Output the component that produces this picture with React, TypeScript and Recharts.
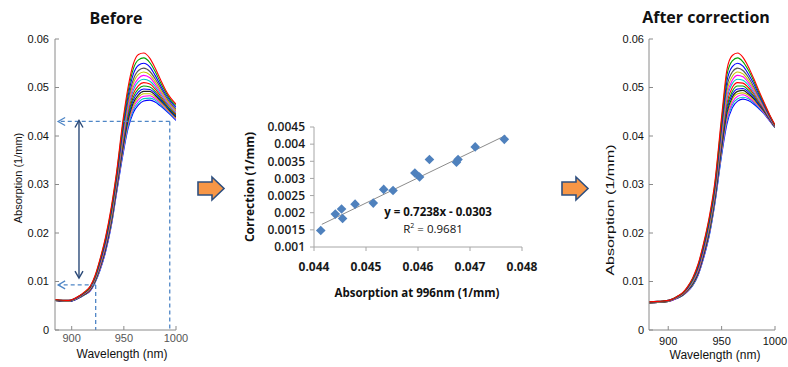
import React from 'react';
import { LineChart, Line, XAxis, YAxis, ReferenceLine, ComposedChart, Scatter } from 'recharts';

// ---------- Left panel: "Before" ----------
const beforeWavelengths = [884, 897, 907, 912, 918, 922.5, 927, 932.5, 938, 943, 949, 954, 959, 964, 969, 975, 980, 985, 990, 995, 1000];
const before01 = [0.0063, 0.0061, 0.0070, 0.0078, 0.0091, 0.0113, 0.0145, 0.0192, 0.0254, 0.0325, 0.0430, 0.0500, 0.0548, 0.0568, 0.0571, 0.0560, 0.0540, 0.0517, 0.0495, 0.0478, 0.0466];
const before02 = [0.0063, 0.0061, 0.0070, 0.0077, 0.0090, 0.0111, 0.0143, 0.0189, 0.0250, 0.0321, 0.0423, 0.0491, 0.0538, 0.0557, 0.0561, 0.0551, 0.0533, 0.0511, 0.0491, 0.0474, 0.0463];
const before03 = [0.0063, 0.0061, 0.0069, 0.0077, 0.0089, 0.0110, 0.0140, 0.0185, 0.0246, 0.0316, 0.0415, 0.0482, 0.0527, 0.0546, 0.0550, 0.0542, 0.0525, 0.0505, 0.0486, 0.0471, 0.0459];
const before04 = [0.0062, 0.0060, 0.0069, 0.0076, 0.0088, 0.0108, 0.0138, 0.0182, 0.0242, 0.0311, 0.0408, 0.0473, 0.0516, 0.0535, 0.0540, 0.0533, 0.0518, 0.0500, 0.0482, 0.0467, 0.0455];
const before05 = [0.0062, 0.0060, 0.0068, 0.0076, 0.0087, 0.0107, 0.0136, 0.0180, 0.0238, 0.0308, 0.0402, 0.0466, 0.0508, 0.0527, 0.0532, 0.0526, 0.0512, 0.0495, 0.0478, 0.0464, 0.0452];
const before06 = [0.0062, 0.0060, 0.0068, 0.0075, 0.0086, 0.0106, 0.0134, 0.0177, 0.0236, 0.0305, 0.0397, 0.0460, 0.0501, 0.0519, 0.0525, 0.0520, 0.0507, 0.0491, 0.0475, 0.0462, 0.0450];
const before07 = [0.0062, 0.0060, 0.0068, 0.0075, 0.0086, 0.0105, 0.0133, 0.0175, 0.0233, 0.0302, 0.0392, 0.0454, 0.0494, 0.0512, 0.0517, 0.0513, 0.0502, 0.0487, 0.0472, 0.0459, 0.0448];
const before08 = [0.0062, 0.0060, 0.0068, 0.0074, 0.0085, 0.0104, 0.0131, 0.0173, 0.0230, 0.0299, 0.0387, 0.0448, 0.0487, 0.0504, 0.0510, 0.0507, 0.0497, 0.0483, 0.0469, 0.0457, 0.0445];
const before09 = [0.0062, 0.0060, 0.0067, 0.0074, 0.0084, 0.0103, 0.0129, 0.0171, 0.0227, 0.0296, 0.0382, 0.0442, 0.0480, 0.0497, 0.0503, 0.0501, 0.0492, 0.0479, 0.0466, 0.0454, 0.0443];
const before10 = [0.0062, 0.0059, 0.0067, 0.0074, 0.0084, 0.0102, 0.0128, 0.0169, 0.0225, 0.0293, 0.0378, 0.0437, 0.0474, 0.0491, 0.0497, 0.0496, 0.0488, 0.0476, 0.0464, 0.0452, 0.0441];
const before11 = [0.0061, 0.0059, 0.0067, 0.0073, 0.0083, 0.0101, 0.0127, 0.0167, 0.0223, 0.0291, 0.0374, 0.0432, 0.0468, 0.0485, 0.0492, 0.0492, 0.0484, 0.0473, 0.0462, 0.0450, 0.0439];
const before12 = [0.0061, 0.0059, 0.0067, 0.0073, 0.0083, 0.0100, 0.0126, 0.0166, 0.0221, 0.0289, 0.0371, 0.0428, 0.0463, 0.0480, 0.0487, 0.0487, 0.0481, 0.0470, 0.0459, 0.0448, 0.0437];
const before13 = [0.0061, 0.0059, 0.0066, 0.0073, 0.0082, 0.0100, 0.0124, 0.0164, 0.0219, 0.0286, 0.0367, 0.0424, 0.0458, 0.0475, 0.0482, 0.0483, 0.0477, 0.0468, 0.0457, 0.0447, 0.0435];
const before14 = [0.0061, 0.0059, 0.0066, 0.0072, 0.0082, 0.0099, 0.0123, 0.0163, 0.0217, 0.0284, 0.0364, 0.0419, 0.0453, 0.0469, 0.0477, 0.0478, 0.0474, 0.0465, 0.0455, 0.0445, 0.0434];
const before15 = [0.0061, 0.0059, 0.0066, 0.0072, 0.0081, 0.0098, 0.0122, 0.0161, 0.0215, 0.0282, 0.0360, 0.0415, 0.0448, 0.0464, 0.0472, 0.0474, 0.0470, 0.0462, 0.0453, 0.0443, 0.0432];
const beforeSeries = [before01, before02, before03, before04, before05, before06, before07, before08, before09, before10, before11, before12, before13, before14, before15];

// ---------- Right panel: "After correction" ----------
const afterWavelengths = [882, 890, 900, 909, 913.5, 918, 923, 928, 933, 938.5, 943.5, 950, 955, 960, 965, 970, 975, 980, 985, 990, 995, 1000];
const after01 = [0.0058, 0.0059, 0.0061, 0.0070, 0.0077, 0.0089, 0.0108, 0.0136, 0.0178, 0.0234, 0.0302, 0.0440, 0.0537, 0.0566, 0.0571, 0.0562, 0.0543, 0.0519, 0.0493, 0.0468, 0.0444, 0.0423];
const after02 = [0.0058, 0.0059, 0.0061, 0.0070, 0.0076, 0.0088, 0.0106, 0.0134, 0.0175, 0.0230, 0.0297, 0.0432, 0.0526, 0.0555, 0.0561, 0.0553, 0.0536, 0.0514, 0.0489, 0.0466, 0.0443, 0.0422];
const after03 = [0.0058, 0.0059, 0.0061, 0.0069, 0.0076, 0.0087, 0.0105, 0.0131, 0.0171, 0.0226, 0.0292, 0.0423, 0.0513, 0.0543, 0.0550, 0.0544, 0.0528, 0.0508, 0.0485, 0.0463, 0.0441, 0.0422];
const after04 = [0.0057, 0.0058, 0.0060, 0.0069, 0.0075, 0.0086, 0.0103, 0.0128, 0.0168, 0.0222, 0.0288, 0.0415, 0.0502, 0.0532, 0.0540, 0.0535, 0.0521, 0.0502, 0.0481, 0.0461, 0.0440, 0.0421];
const after05 = [0.0057, 0.0058, 0.0060, 0.0068, 0.0075, 0.0085, 0.0102, 0.0126, 0.0166, 0.0218, 0.0284, 0.0408, 0.0492, 0.0523, 0.0532, 0.0528, 0.0515, 0.0498, 0.0478, 0.0459, 0.0439, 0.0421];
const after06 = [0.0057, 0.0058, 0.0060, 0.0068, 0.0074, 0.0084, 0.0101, 0.0124, 0.0163, 0.0216, 0.0281, 0.0402, 0.0484, 0.0515, 0.0525, 0.0522, 0.0510, 0.0494, 0.0476, 0.0457, 0.0438, 0.0420];
const after07 = [0.0057, 0.0058, 0.0060, 0.0068, 0.0074, 0.0084, 0.0099, 0.0123, 0.0161, 0.0213, 0.0278, 0.0397, 0.0476, 0.0508, 0.0517, 0.0515, 0.0505, 0.0490, 0.0473, 0.0456, 0.0437, 0.0420];
const after08 = [0.0057, 0.0058, 0.0060, 0.0068, 0.0073, 0.0083, 0.0098, 0.0121, 0.0159, 0.0210, 0.0275, 0.0391, 0.0468, 0.0500, 0.0510, 0.0509, 0.0500, 0.0487, 0.0470, 0.0454, 0.0436, 0.0419];
const after09 = [0.0057, 0.0058, 0.0060, 0.0067, 0.0073, 0.0082, 0.0097, 0.0120, 0.0157, 0.0207, 0.0272, 0.0385, 0.0460, 0.0492, 0.0503, 0.0503, 0.0495, 0.0483, 0.0468, 0.0452, 0.0435, 0.0419];
const after10 = [0.0057, 0.0058, 0.0060, 0.0067, 0.0073, 0.0082, 0.0096, 0.0118, 0.0155, 0.0205, 0.0269, 0.0380, 0.0454, 0.0486, 0.0497, 0.0498, 0.0491, 0.0480, 0.0465, 0.0451, 0.0434, 0.0419];
const after11 = [0.0056, 0.0057, 0.0059, 0.0067, 0.0072, 0.0081, 0.0095, 0.0117, 0.0153, 0.0203, 0.0267, 0.0376, 0.0448, 0.0480, 0.0492, 0.0494, 0.0487, 0.0477, 0.0464, 0.0450, 0.0434, 0.0418];
const after12 = [0.0056, 0.0057, 0.0059, 0.0067, 0.0072, 0.0081, 0.0094, 0.0116, 0.0152, 0.0201, 0.0265, 0.0372, 0.0442, 0.0475, 0.0487, 0.0489, 0.0484, 0.0474, 0.0462, 0.0449, 0.0433, 0.0418];
const after13 = [0.0056, 0.0057, 0.0059, 0.0066, 0.0072, 0.0080, 0.0094, 0.0115, 0.0150, 0.0199, 0.0263, 0.0368, 0.0436, 0.0469, 0.0482, 0.0485, 0.0480, 0.0471, 0.0460, 0.0447, 0.0432, 0.0418];
const after14 = [0.0056, 0.0057, 0.0059, 0.0066, 0.0071, 0.0080, 0.0093, 0.0114, 0.0149, 0.0197, 0.0260, 0.0364, 0.0431, 0.0464, 0.0477, 0.0480, 0.0477, 0.0469, 0.0458, 0.0446, 0.0432, 0.0417];
const after15 = [0.0056, 0.0057, 0.0059, 0.0066, 0.0071, 0.0079, 0.0092, 0.0113, 0.0147, 0.0195, 0.0258, 0.0360, 0.0425, 0.0458, 0.0472, 0.0476, 0.0473, 0.0466, 0.0456, 0.0445, 0.0431, 0.0417];
const afterSeries = [after01, after02, after03, after04, after05, after06, after07, after08, after09, after10, after11, after12, after13, after14, after15];

const curveColors = ['#ff0000', '#00a000', '#0000ff', '#555555', '#c8c800', '#ff00ff', '#00c8c8', '#ff0000', '#00a000', '#0000ff', '#222222', '#c8c800', '#ff00ff', '#00c8c8', '#0000ff'];

const spectrumYTicks = [0, 0.01, 0.02, 0.03, 0.04, 0.05, 0.06];
const spectrumXTicks = [900, 950, 1000];

// annotation values (left panel)
const highLevel = 0.043;
const lowLevel = 0.0093;
const highWavelength = 994;
const lowWavelength = 923;
const arrowWavelength = 907;
const arrowStartX = 887;

// ---------- Middle panel: regression ----------
const absorption996 = [0.04413, 0.04441, 0.04453, 0.04455, 0.04479, 0.04514, 0.04534, 0.04552, 0.04594, 0.04603, 0.04622, 0.04674, 0.04677, 0.04710, 0.04766];
const correction = [0.00148, 0.00196, 0.00211, 0.00183, 0.00225, 0.00228, 0.00268, 0.00265, 0.00316, 0.00304, 0.00355, 0.00347, 0.00355, 0.00392, 0.00414];
const trendX = [0.04415, 0.04768];
const trendY = [0.00166, 0.00425];
const midXTicks = [0.044, 0.045, 0.046, 0.047, 0.048];
const midYTicks = [0.001, 0.0015, 0.002, 0.0025, 0.003, 0.0035, 0.004, 0.0045];

const SANS = '"Liberation Sans", Arial, sans-serif';
const BOLD = '"Open Sans", "Liberation Sans", sans-serif';
const BOX = '#8a8a8a';

function makeArrowShape(dashed: boolean, color: string, headStart: boolean, headEnd: boolean, width: number) {
  return (props: any) => {
    const { x1, y1, x2, y2 } = props;
    const dx = x2 - x1;
    const dy = y2 - y1;
    const len = Math.sqrt(dx * dx + dy * dy) || 1;
    const ux = dx / len;
    const uy = dy / len;
    const head = (px: number, py: number, dirx: number, diry: number) => {
      const h = 7;
      const w = 4;
      const bx = px - dirx * h;
      const by = py - diry * h;
      return (
        <polyline
          points={`${bx - diry * w},${by + dirx * w} ${px},${py} ${bx + diry * w},${by - dirx * w}`}
          fill="none"
          stroke={color}
          strokeWidth={width}
        />
      );
    };
    return (
      <g>
        <line x1={x1} y1={y1} x2={x2} y2={y2} stroke={color} strokeWidth={width} strokeDasharray={dashed ? '4 3' : undefined} />
        {headEnd && head(x2, y2, ux, uy)}
        {headStart && head(x1, y1, -ux, -uy)}
      </g>
    );
  };
}

const dashedHead = makeArrowShape(true, '#4f86c6', false, true, 1.3);
const dashedPlain = makeArrowShape(true, '#4f86c6', false, false, 1.3);
const doubleArrow = makeArrowShape(false, '#2b4a78', true, true, 1.4);

function SpectrumChart(props: any) {
  const { wavelengths, series, xMin, width, plotLeft, plotRight, yTickMargin, xTickMargin, xTickColor, annotate } = props;
  const data = wavelengths.map((w: number, i: number) => {
    const row: any = { wl: w };
    series.forEach((s: number[], k: number) => {
      row['c' + k] = s[i];
    });
    return row;
  });
  const order = series.map((_: any, k: number) => k).reverse();
  return (
    <LineChart width={width} height={367} data={data} margin={{ top: 39, right: width - plotRight, bottom: 7, left: 0 }}>
      <XAxis
        dataKey="wl"
        type="number"
        domain={[xMin, 1000]}
        ticks={spectrumXTicks}
        interval={0}
        allowDataOverflow
        stroke={BOX}
        tickSize={-4}
        tickMargin={xTickMargin}
        height={30}
        tick={{ fill: xTickColor, fontSize: 11, fontFamily: SANS }}
      />
      <XAxis
        xAxisId="top"
        orientation="top"
        type="number"
        domain={[xMin, 1000]}
        ticks={spectrumXTicks}
        interval={0}
        stroke={BOX}
        tickSize={-4}
        height={0}
        tick={false}
      />
      <YAxis
        type="number"
        domain={[0, 0.06]}
        ticks={spectrumYTicks}
        interval={0}
        width={plotLeft}
        stroke={BOX}
        tickSize={-4}
        tickMargin={yTickMargin}
        tickFormatter={(v: number) => (v === 0 ? '0' : v.toFixed(2))}
        tick={{ fill: '#111', fontSize: 11, fontFamily: SANS }}
      />
      <YAxis
        yAxisId="right"
        orientation="right"
        type="number"
        domain={[0, 0.06]}
        ticks={spectrumYTicks}
        interval={0}
        width={0}
        stroke={BOX}
        tickSize={-4}
        tick={false}
      />
      {order.map((k: number) => (
        <Line
          key={k}
          type="monotone"
          dataKey={'c' + k}
          stroke={curveColors[k]}
          strokeWidth={1.1}
          dot={false}
          isAnimationActive={false}
        />
      ))}
      {annotate && (
        <ReferenceLine segment={[{ x: highWavelength, y: highLevel }, { x: arrowStartX, y: highLevel }]} shape={dashedHead} />
      )}
      {annotate && (
        <ReferenceLine segment={[{ x: highWavelength, y: highLevel }, { x: highWavelength, y: 0 }]} shape={dashedPlain} />
      )}
      {annotate && (
        <ReferenceLine segment={[{ x: lowWavelength, y: lowLevel }, { x: arrowStartX, y: lowLevel }]} shape={dashedHead} />
      )}
      {annotate && (
        <ReferenceLine segment={[{ x: lowWavelength, y: lowLevel }, { x: lowWavelength, y: 0 }]} shape={dashedPlain} />
      )}
      {annotate && (
        <ReferenceLine segment={[{ x: arrowWavelength, y: 0.0107 }, { x: arrowWavelength, y: 0.0432 }]} shape={doubleArrow} />
      )}
    </LineChart>
  );
}

const Diamond = (props: any) => {
  const { cx, cy } = props;
  const r = 4.8;
  return <polygon points={`${cx},${cy - r} ${cx + r},${cy} ${cx},${cy + r} ${cx - r},${cy}`} fill="#4f81bd" />;
};

function Txt(props: any) {
  const { x, y, children, size, weight, family, color, rotate, stretch } = props;
  let t = 'translate(-50%, -50%)';
  if (rotate) t += ' rotate(-90deg)';
  if (stretch) t += ` scaleX(${stretch})`;
  return (
    <div
      style={{
        position: 'absolute',
        left: x,
        top: y,
        transform: t,
        whiteSpace: 'nowrap',
        fontSize: size,
        fontWeight: weight || 400,
        fontFamily: family || SANS,
        color: color || '#111',
        lineHeight: 1,
      }}
    >
      {children}
    </div>
  );
}

function OrangeArrow({ x }: { x: number }) {
  return (
    <svg style={{ position: 'absolute', left: x, top: 174, overflow: 'visible' }} width={30} height={30}>
      <polygon points="1,8 15,8 15,3 27,14.5 15,26 15,21 1,21" fill="#f79646" stroke="#2e4f7f" strokeWidth={1.6} strokeLinejoin="miter" />
    </svg>
  );
}

export default function App() {
  const scatterData = absorption996.map((x, i) => ({ x, y: correction[i] }));
  return (
    <div style={{ position: 'absolute', left: 0, top: 0, width: 788, height: 367, background: '#fff', overflow: 'hidden' }}>
      <div style={{ position: 'absolute', left: 0, top: 0 }}>
        <SpectrumChart
          wavelengths={beforeWavelengths}
          series={beforeSeries}
          xMin={884}
          width={200}
          plotLeft={55}
          plotRight={176}
          yTickMargin={10}
          xTickMargin={8}
          xTickColor="#555"
          annotate
        />
      </div>
      <div style={{ position: 'absolute', left: 580, top: 0 }}>
        <SpectrumChart
          wavelengths={afterWavelengths}
          series={afterSeries}
          xMin={882}
          width={208}
          plotLeft={69}
          plotRight={195}
          yTickMargin={9}
          xTickMargin={11}
          xTickColor="#111"
          annotate={false}
        />
      </div>
      <div style={{ position: 'absolute', left: 230, top: 100 }}>
        <ComposedChart width={320} height={220} margin={{ top: 27, right: 28, bottom: 43, left: 44 }}>
          <XAxis
            type="number"
            dataKey="x"
            domain={[0.044, 0.048]}
            ticks={midXTicks}
            interval={0}
            allowDataOverflow
            stroke="#a6a6a6"
            tickSize={4}
            tickMargin={11}
            height={30}
            tickFormatter={(v: number) => v.toFixed(3)}
            tick={{ fill: '#1a1a1a', fontSize: 12, fontFamily: BOLD, fontWeight: 700 }}
          />
          <YAxis
            type="number"
            dataKey="y"
            domain={[0.001, 0.0045]}
            ticks={midYTicks}
            interval={0}
            allowDataOverflow
            width={40}
            stroke="#a6a6a6"
            tickSize={4}
            tickMargin={5}
            tickFormatter={(v: number) => String(parseFloat(v.toFixed(4)))}
            tick={{ fill: '#1a1a1a', fontSize: 12, fontFamily: BOLD, fontWeight: 600 }}
          />
          <ReferenceLine
            segment={[{ x: trendX[0], y: trendY[0] }, { x: trendX[1], y: trendY[1] }]}
            stroke="#8c8c8c"
            strokeWidth={1}
          />
          <Scatter data={scatterData} dataKey="y" shape={Diamond} fill="#4f81bd" isAnimationActive={false} />
        </ComposedChart>
      </div>

      <Txt x={116} y={18} size={16} weight={700} family={BOLD} color="#111">Before</Txt>
      <Txt x={706} y={17} size={16} weight={700} family={BOLD} color="#111">After correction</Txt>

      <Txt x={18} y={178} size={11} rotate>Absorption (1/mm)</Txt>
      <Txt x={122} y={354} size={12}>Wavelength (nm)</Txt>
      <Txt x={610} y={210} size={11} rotate stretch={1.45}>Absorption (1/mm)</Txt>
      <Txt x={715} y={355} size={12}>Wavelength (nm)</Txt>

      <Txt x={250} y={187} size={12} weight={700} family={BOLD} rotate>Correction (1/mm)</Txt>
      <Txt x={417} y={293} size={11.5} weight={700} family={BOLD}>Absorption at 996nm (1/mm)</Txt>
      <Txt x={438} y={212} size={11.5} weight={700} family={BOLD}>y = 0.7238x - 0.0303</Txt>
      <Txt x={433} y={228} size={11.5} weight={400} family={BOLD}>
        R<sup style={{ fontSize: 7 }}>2</sup> = 0.9681
      </Txt>

      <OrangeArrow x={197} />
      <OrangeArrow x={561} />
    </div>
  );
}
